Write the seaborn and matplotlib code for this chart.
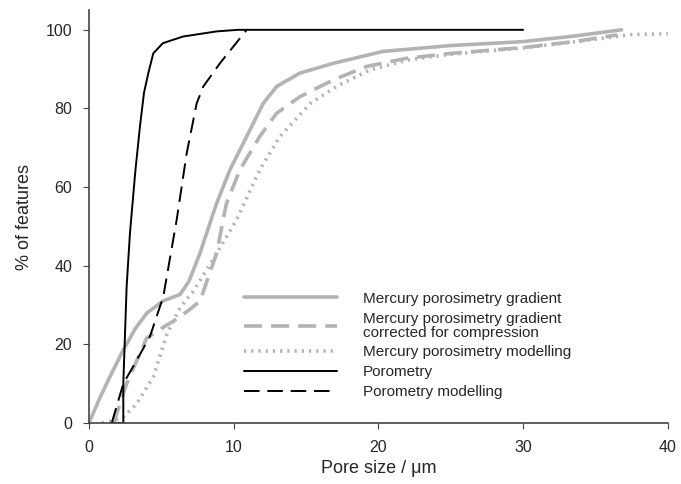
import numpy as np
import pandas as pd
import matplotlib
matplotlib.use("Agg")
import matplotlib.pyplot as plt
import seaborn as sns

# Cumulative pore size distributions
hg_grad_x = [0.0, 0.7, 1.45, 2.37, 3.2, 3.98, 5.1, 5.8, 6.29, 6.9, 7.67, 8.82, 9.74, 10.9,
             12.04, 12.97, 14.58, 16.9, 20.3, 25.0, 30.0, 33.5, 36.8]
hg_grad_y = [0.0, 6.0, 11.8, 18.6, 24.0, 27.9, 31.0, 32.0, 32.7, 36.0, 43.2, 55.9, 64.4, 72.9,
             81.3, 85.6, 89.0, 91.5, 94.5, 96.0, 97.0, 98.4, 100.0]

hg_corr_x = [1.7, 2.6, 3.98, 5.2, 6.3, 7.0, 7.67, 8.82, 9.5, 10.43, 11.8, 12.97, 14.58,
             16.9, 19.2, 22.0, 25.0, 30.0, 33.5, 36.5]
hg_corr_y = [0.0, 10.0, 21.6, 24.5, 27.0, 29.0, 31.0, 43.2, 55.9, 64.4, 72.9, 78.8, 83.0,
             87.3, 90.7, 92.8, 94.0, 95.5, 97.0, 98.7]

hg_model_x = [0.9, 1.6, 2.37, 3.3, 4.45, 5.37, 6.3, 7.2, 8.13, 10.2, 11.8, 13.2, 15.3,
              17.1, 19.4, 22.0, 25.0, 30.0, 35.0, 37.5, 40.0]
hg_model_y = [0.0, 0.5, 1.5, 4.9, 11.8, 22.5, 29.4, 33.5, 38.9, 51.7, 64.4, 72.9, 81.3,
              85.6, 89.8, 92.3, 93.8, 95.4, 97.6, 98.8, 99.0]

poro_x = [1.57, 2.37, 2.37, 2.45, 2.6, 2.83, 3.2, 3.52, 3.8, 4.1, 4.44, 5.1, 6.5, 8.82,
          10.3, 30.0]
poro_y = [0.0, 0.0, 10.0, 18.6, 34.7, 48.3, 64.0, 75.4, 84.0, 89.0, 94.0, 96.6, 98.3,
          99.6, 100.0, 100.0]

poro_model_x = [1.57, 2.37, 3.3, 4.21, 5.13, 5.6, 6.06, 6.75, 7.44, 7.9, 9.05, 10.9]
poro_model_y = [0.0, 10.0, 16.0, 22.0, 32.1, 42.0, 51.7, 68.6, 81.3, 85.6, 91.5, 100.0]

labels = ["Mercury porosimetry gradient",
          "Mercury porosimetry gradient\ncorrected for compression",
          "Mercury porosimetry modelling",
          "Porometry",
          "Porometry modelling"]

sns.set_style("ticks")
plt.rcParams['font.family'] = ['Liberation Sans', 'DejaVu Sans']

fig = plt.figure(figsize=(6.81, 4.84), dpi=100)
ax = fig.add_axes([0.1307, 0.126, 0.850, 0.853])

grey = "#b3b3b3"
series = [
    (hg_grad_x, hg_grad_y, labels[0], grey, 2.6, None),
    (hg_corr_x, hg_corr_y, labels[1], grey, 2.6, (5, 2.5)),
    (hg_model_x, hg_model_y, labels[2], grey, 2.6, (0.6, 1.4)),
    (poro_x, poro_y, labels[3], "black", 1.4, None),
    (poro_model_x, poro_model_y, labels[4], "black", 1.4, (8, 4)),
]

for xs, ys, lab, col, lw, dash in series:
    df = pd.DataFrame({"x": xs, "y": ys})
    sns.lineplot(data=df, x="x", y="y", sort=False, color=col, lw=lw,
                 label=lab, ax=ax, estimator=None)
    if dash is not None:
        ax.lines[-1].set_dashes(dash)

ax.set_xlim(0, 40)
ax.set_ylim(0, 105)
ax.set_xticks([0, 10, 20, 30, 40])
ax.set_yticks([0, 20, 40, 60, 80, 100])
ax.set_xlabel("Pore size / \u03bcm", fontsize=13, labelpad=4)
ax.set_ylabel("% of features", fontsize=13, labelpad=9)
ax.tick_params(labelsize=11.5, length=4, color="#444444")
ax.tick_params(axis="x", pad=8)
ax.tick_params(axis="y", pad=8)
sns.despine(ax=ax)
for s in ["left", "bottom"]:
    ax.spines[s].set_color("#444444")
    ax.spines[s].set_linewidth(1.2)

leg = ax.legend(loc="lower left", bbox_to_anchor=(0.244, 0.025), frameon=False,
                fontsize=11, handlelength=6.1, handletextpad=1.7, labelspacing=0.38)
for t in leg.get_texts():
    t.set_linespacing(1.0)

fig.savefig("out.png", dpi=100)
